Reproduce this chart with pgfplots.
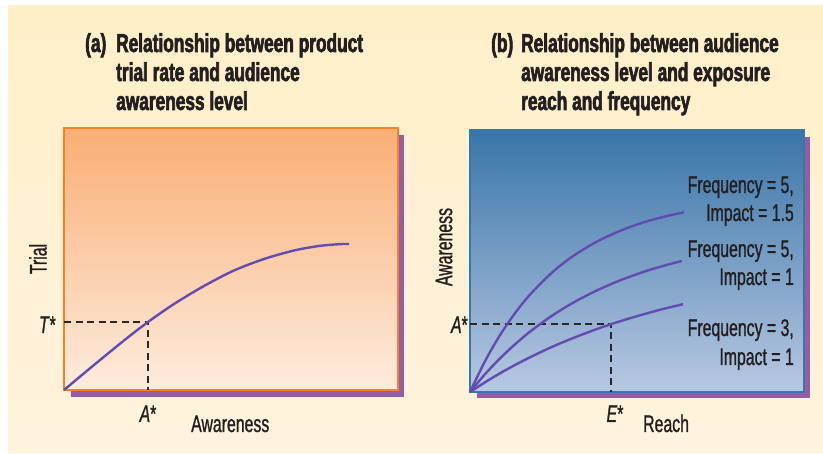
\documentclass[border=0pt]{standalone}
\usepackage{fontspec}
\setmainfont{Liberation Sans}[FakeStretch=0.66, FakeBold=1.0]
\newfontfamily\ttlfont{Liberation Sans}[FakeStretch=0.665, BoldFeatures={FakeBold=2.4}]
\usepackage{pgfplots}
\pgfplotsset{compat=1.18}

\definecolor{creamtop}{RGB}{255,239,200}
\definecolor{creambot}{RGB}{255,243,222}
\definecolor{shadowc}{RGB}{150,92,165}
\definecolor{orangeb}{RGB}{245,130,32}
\definecolor{orangetop}{RGB}{249,174,116}
\definecolor{orangebot}{RGB}{253,236,222}
\definecolor{blueb}{RGB}{48,122,172}
\definecolor{bluetop}{RGB}{57,117,168}
\definecolor{bluebot}{RGB}{184,200,226}
\definecolor{curvec}{RGB}{98,76,176}
\definecolor{dashc}{RGB}{40,38,38}
\definecolor{textc}{RGB}{35,31,32}

\newcommand\lab{\fontsize{24bp}{28bp}\selectfont}
\newcommand\ttl{\ttlfont\fontsize{26bp}{30bp}\selectfont\bfseries}

\pgfplotsset{
  panel/.style={
    anchor=south west, scale only axis,
    width=334bp, height=262bp,
    xmin=0, xmax=334, ymin=0, ymax=262,
    ticks=none, clip=false,
  },
  curve/.style={curvec, line width=2.4bp, smooth, no marks},
  guide/.style={dashc, line width=1.3bp, dash pattern=on 7bp off 4.5bp, no marks},
}

\begin{document}
\begin{tikzpicture}[x=1bp, y=1bp, every node/.style={inner sep=0pt, text=textc}]
% background and shadows
\fill[white] (0,0) rectangle (823,454);
\shade[top color=creamtop, bottom color=creambot] (8,1) rectangle (823,448);
\fill[shadowc] (71,57) rectangle (404,319);
\fill[shadowc] (477,56) rectangle (810,317);

% (a) trial vs awareness
\begin{axis}[panel, at={(64bp,64bp)},
  axis line style={draw=orangeb, line width=2.5bp},
  axis background/.style={top color=orangetop, bottom color=orangebot}]
\addplot[guide] coordinates {(0,68) (84,68) (84,0)};
\addplot[curve] coordinates {
  (0,0) (30,25) (60,49.5) (84,68) (110,86) (140,104) (170,119.5)
  (200,131) (230,139.5) (255,144) (275,145.8) (285,146)};
\end{axis}

% (b) awareness vs reach
\begin{axis}[panel, at={(470bp,62bp)},
  axis line style={draw=blueb, line width=2.5bp},
  axis background/.style={top color=bluetop, bottom color=bluebot}]
\addplot[guide] coordinates {(0,68) (141,68) (141,0)};
% frequency 5, impact 1.5
\addplot[curve] coordinates {
  (0,0) (15,30.8) (30,56.9) (45,78.8) (60,97.4) (80,117.6) (100,133.8)
  (125,149.4) (150,161.1) (175,170.1) (195,175.5) (214,179.7)};
% frequency 5, impact 1
\addplot[curve] coordinates {
  (0,0) (15,17.8) (30,33.6) (45,47.7) (60,60.3) (80,74.9) (100,87.5)
  (125,100.7) (150,111.6) (175,120.6) (195,126.6) (212,131.1)};
% frequency 3, impact 1
\addplot[curve] coordinates {
  (0,0) (15,9.7) (30,18.7) (45,27.0) (60,34.7) (80,44.2) (100,52.7)
  (125,62.3) (141,67.8) (160,73.8) (190,82.2) (213,87.8)};
\end{axis}

% titles
\node[anchor=base west] at (85,402) {\ttl (a)};
\node[anchor=base west] at (116,402) {\ttl Relationship between product};
\node[anchor=base west] at (116,373) {\ttl trial rate and audience};
\node[anchor=base west] at (116,344) {\ttl awareness level};
\node[anchor=base west] at (491,402) {\ttl (b)};
\node[anchor=base west] at (521,402) {\ttl Relationship between audience};
\node[anchor=base west] at (521,373) {\ttl awareness level and exposure};
\node[anchor=base west] at (521,344) {\ttl reach and frequency};

% axis labels (a)
\node[rotate=90] at (38,195) {\lab Trial};
\node[anchor=base east] at (56,121) {\lab\textit{T}*};
\node[anchor=base] at (148,32) {\lab\textit{A}*};
\node[anchor=base west] at (191,22) {\lab Awareness};

% axis labels (b)
\node[rotate=90] at (444,207) {\lab Awareness};
\node[anchor=base east] at (468,121) {\lab\textit{A}*};
\node[anchor=base] at (615,32) {\lab\textit{E}*};
\node[anchor=base west] at (643,22) {\lab Reach};

% curve labels
\node[anchor=base east] at (794,261) {\lab Frequency = 5,};
\node[anchor=base east] at (794,233) {\lab Impact = 1.5};
\node[anchor=base east] at (794,197) {\lab Frequency = 5,};
\node[anchor=base east] at (794,169) {\lab Impact = 1};
\node[anchor=base east] at (794,118) {\lab Frequency = 3,};
\node[anchor=base east] at (794,89) {\lab Impact = 1};
\end{tikzpicture}
\end{document}
